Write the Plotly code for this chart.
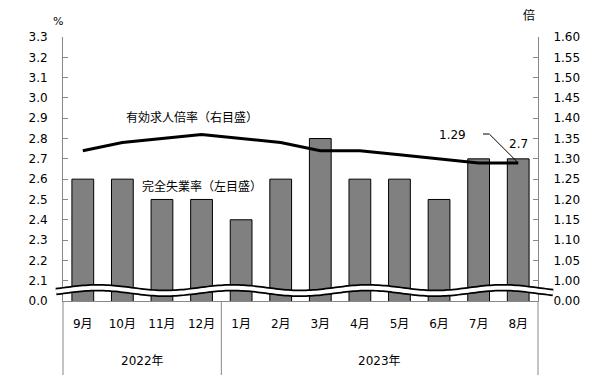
import numpy as np
import plotly.graph_objects as go

months = ["9月", "10月", "11月", "12月", "1月", "2月", "3月", "4月", "5月", "6月", "7月", "8月"]
unemployment = [2.6, 2.6, 2.5, 2.5, 2.4, 2.6, 2.8, 2.6, 2.6, 2.5, 2.7, 2.7]
jobs_ratio = [1.32, 1.34, 1.35, 1.36, 1.35, 1.34, 1.32, 1.32, 1.31, 1.30, 1.29, 1.29]
years = ["2022年", "2023年"]
left_tickvals = [round(2.0 + 0.1 * i, 1) for i in range(14)]
left_ticktext = ["0.0"] + [f"{v:.1f}" for v in left_tickvals[1:]]
right_tickvals = [round(0.95 + 0.05 * i, 2) for i in range(14)]
right_ticktext = ["0.00"] + [f"{v:.2f}" for v in right_tickvals[1:]]

W, H = 606, 379
L, R, T, B = 63, 538, 37, 301
FONT = "DejaVu Sans, Noto Sans CJK JP"
AX = "#888888"


def px(x):
    return (x - L) / (R - L)


def py(y):
    return (B - y) / (B - T)


fig = go.Figure()
fig.add_trace(go.Bar(x=months, y=unemployment, marker=dict(color="#808080", line=dict(color="black", width=1)),
                     yaxis="y", showlegend=False, hoverinfo="skip"))
fig.add_trace(go.Scatter(x=months, y=jobs_ratio, mode="lines", line=dict(color="black", width=3),
                         yaxis="y2", showlegend=False, hoverinfo="skip"))

# wavy axis break
xs = np.linspace(56, 553, 200)
ys = 290.5 - 2.8 * np.cos(2 * np.pi * (xs - 98) / 135)
path = "M " + " L ".join(f"{px(a):.5f},{py(b):.5f}" for a, b in zip(xs, ys))
shapes = [
    dict(type="path", path=path, xref="paper", yref="paper", line=dict(color="black", width=7.5)),
    dict(type="path", path=path, xref="paper", yref="paper", line=dict(color="white", width=4)),
    dict(type="line", xref="paper", yref="paper", x0=0, x1=0, y0=0, y1=py(375), line=dict(color=AX, width=1)),
    dict(type="line", xref="paper", yref="paper", x0=1, x1=1, y0=0, y1=py(375), line=dict(color=AX, width=1)),
    dict(type="line", xref="x", yref="paper", x0=3.5, x1=3.5, y0=0, y1=py(375), line=dict(color=AX, width=1)),
    dict(type="line", xref="paper", yref="paper", x0=px(483), x1=px(489), y0=py(134), y1=py(134),
         line=dict(color="black", width=1)),
    # leader from the "1.29" label to the last point of the ratio line
    dict(type="line", xref="x", yref="y2", xsizemode="pixel", ysizemode="pixel",
         xanchor=len(months) - 1, yanchor=jobs_ratio[-1], x0=-29, x1=0, y0=29, y1=0,
         line=dict(color="black", width=1)),
]


def note(text, x, y, size=12):
    return dict(text=text, xref="paper", yref="paper", x=px(x), y=py(y), xanchor="center", yanchor="middle",
                showarrow=False, font=dict(size=size))


annotations = [
    note("%", 58, 21, 11),
    note("倍", 529, 16, 12),
    note("有効求人倍率（右目盛）", 192, 118),
    note("完全失業率（左目盛）", 202, 187),
    note("1.29", 452, 135),
    dict(text=f"{unemployment[-1]}", x=months[-1], y=unemployment[-1], xref="x", yref="y",
         xanchor="center", yanchor="bottom", yshift=6, showarrow=False),
    dict(text=years[0], x=1.5, xref="x", yref="paper", y=py(361), xanchor="center", yanchor="middle",
         showarrow=False),
    dict(text=years[1], x=7.5, xref="x", yref="paper", y=py(361), xanchor="center", yanchor="middle",
         showarrow=False),
]

fig.update_layout(
    width=W, height=H,
    margin=dict(l=L, r=W - R, t=T, b=H - B, pad=0),
    plot_bgcolor="white", paper_bgcolor="white",
    font=dict(family=FONT, size=12, color="black"),
    bargap=0.45,
    hovermode=False,
    shapes=shapes, annotations=annotations,
    xaxis=dict(type="category", range=[-0.5, 11.5], showline=True, linecolor=AX, ticks="",
               showgrid=False, ticklabelstandoff=12, tickfont=dict(size=12)),
    yaxis=dict(range=[2.0, 3.3], tickvals=left_tickvals, ticktext=left_ticktext, ticks="inside",
               ticklen=5, tickcolor=AX, showline=True, linecolor=AX, showgrid=False, zeroline=False,
               ticklabelstandoff=12),
    yaxis2=dict(range=[0.95, 1.60], tickvals=right_tickvals, ticktext=right_ticktext, ticks="inside",
                ticklen=5, tickcolor=AX, showline=True, linecolor=AX, showgrid=False, zeroline=False,
                overlaying="y", side="right", ticklabelstandoff=12),
)

fig.write_html("out.html", config={"displayModeBar": False},
               post_script="document.body.style.margin='0';")
